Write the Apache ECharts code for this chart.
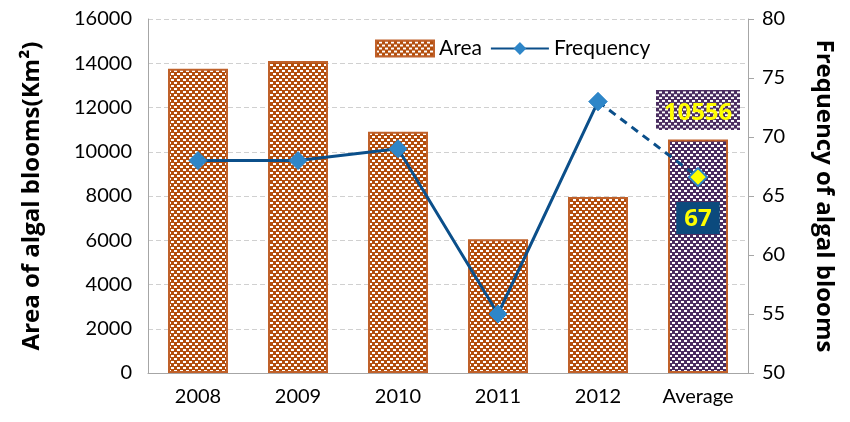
<!DOCTYPE html>
<html>
<head>
<meta charset="utf-8">
<script src="https://cdn.jsdelivr.net/npm/echarts@6/dist/echarts.min.js"></script>
<style>
  html, body { margin: 0; padding: 0; background: #fff; }
  #chart { width: 850px; height: 422px; }
</style>
</head>
<body>
<div id="chart"></div>
<script>
  // data
  var years = ['2008', '2009', '2010', '2011', '2012', 'Average'];
  var areaValues = [13750, 14100, 10900, 6050, 7950, 10556];
  var freqValues = [68, 68, 69, 55, 73];
  var freqAverage = 66.6;
  var areaTicks = [0, 16000, 2000];
  var freqTicks = [50, 80, 5];

  // checker pattern like the excel fill, fg cells a bit fatter than bg
  function makeChecker(fg, bg, w, h) {
    var c = document.createElement('canvas');
    c.width = w || 6;
    c.height = h || 6;
    var ctx = c.getContext('2d');
    ctx.fillStyle = bg;
    ctx.fillRect(0, 0, c.width, c.height);
    ctx.fillStyle = fg;
    for (var y = 0; y < c.height; y += 3) {
      for (var x = 0; x < c.width; x += 3) {
        if (((x / 3) + (y / 3)) % 2 === 0) {
          ctx.fillRect(x, y, 3, 3);
        } else {
          ctx.fillRect(x, y, 3, 1);
        }
      }
    }
    return c;
  }
  var brownPat = makeChecker('#B34E0D', '#ffffff');
  var purplePat = makeChecker('#4A2D60', '#ffffff');
  var purpleBox = makeChecker('#4A2D60', '#ffffff', 84, 42);

  var font = 'Lato, "Open Sans", sans-serif';
  var boldFont = '"Open Sans", Lato, sans-serif';

  var barData = areaValues.map(function (v, i) {
    var last = i === areaValues.length - 1;
    return {
      value: v,
      itemStyle: {
        color: { image: last ? purplePat : brownPat, repeat: 'repeat' }
      },
      label: last ? {
        show: true,
        position: 'top',
        distance: 9,
        color: '#FFFF00',
        fontWeight: 'bold',
        fontSize: 24,
        fontFamily: boldFont,
        backgroundColor: { image: purpleBox },
        width: 70,
        height: 30,
        align: 'center',
        padding: [5, 7]
      } : { show: false }
    };
  });

  var solidLine = freqValues.concat(['-']);
  var dashLine = years.map(function (y, i) {
    if (i === freqValues.length - 1) return freqValues[i];
    if (i === years.length - 1) {
      return {
        value: freqAverage,
        itemStyle: { color: '#FFFF00', borderColor: '#2E86C8', borderWidth: 2 },
        label: {
          show: true,
          position: 'bottom',
          distance: 15,
          formatter: function (p) { return Math.round(p.value); },
          color: '#FFFF00',
          fontWeight: 'bold',
          fontSize: 24,
          fontFamily: boldFont,
          backgroundColor: '#0B4A7D',
          padding: [5, 8, 3, 8]
        }
      };
    }
    return '-';
  });

  var chart = echarts.init(document.getElementById('chart'));
  var option = {
    animation: false,
    textStyle: { fontFamily: font },
    grid: { left: 148, right: 102, top: 19, bottom: 49 },
    legend: {
      top: 33,
      left: 370,
      itemWidth: 58,
      itemHeight: 16,
      itemGap: 8,
      textStyle: { fontSize: 21, color: '#000', fontFamily: font },
      data: [
        { name: 'Area', icon: 'rect' },
        { name: 'Frequency' }
      ]
    },
    xAxis: {
      type: 'category',
      data: years,
      axisLine: { show: true, lineStyle: { color: '#A6A6A6' } },
      axisTick: { show: false },
      axisLabel: { fontSize: 20, color: '#000', margin: 14 }
    },
    yAxis: [
      {
        type: 'value',
        min: areaTicks[0], max: areaTicks[1], interval: areaTicks[2],
        name: 'Area of algal blooms(Km²)',
        nameLocation: 'middle',
        nameGap: 104,
        nameRotate: 90,
        nameTextStyle: { fontSize: 24, fontWeight: 'bold', color: '#000', fontFamily: boldFont },
        axisLine: { show: true, lineStyle: { color: '#A6A6A6' } },
        axisTick: { show: false },
        axisLabel: { fontSize: 20, color: '#000', margin: 16, formatter: function (v) { return String(v); } },
        splitLine: { lineStyle: { color: '#D0D0D0', type: [5, 3] } }
      },
      {
        type: 'value',
        min: freqTicks[0], max: freqTicks[1], interval: freqTicks[2],
        name: 'Frequency of algal blooms',
        nameLocation: 'middle',
        nameGap: 64,
        nameRotate: -90,
        nameTextStyle: { fontSize: 24, fontWeight: 'bold', color: '#000', fontFamily: boldFont },
        axisLine: { show: true, lineStyle: { color: '#A6A6A6' } },
        axisTick: { show: true, length: 6, lineStyle: { color: '#A6A6A6' } },
        axisLabel: { fontSize: 20, color: '#000', margin: 14 },
        splitLine: { show: false }
      }
    ],
    series: [
      {
        name: 'Area',
        type: 'bar',
        barWidth: '60%',
        data: barData,
        itemStyle: {
          color: { image: brownPat, repeat: 'repeat' },
          borderColor: '#C0612A',
          borderWidth: 2
        }
      },
      {
        name: 'Frequency',
        type: 'line',
        yAxisIndex: 1,
        data: solidLine,
        symbol: 'diamond',
        symbolSize: 18,
        lineStyle: { color: '#0B4F8A', width: 3 },
        itemStyle: { color: '#2E86C8', borderColor: '#2E86C8' },
        z: 5
      },
      {
        name: 'FrequencyAvg',
        type: 'line',
        yAxisIndex: 1,
        data: dashLine,
        symbol: 'diamond',
        symbolSize: 18,
        lineStyle: { color: '#0B4F8A', width: 3, type: [8, 6] },
        itemStyle: { color: '#2E86C8', borderColor: '#2E86C8' },
        z: 4
      }
    ]
  };
  chart.setOption(option);
</script>
</body>
</html>
